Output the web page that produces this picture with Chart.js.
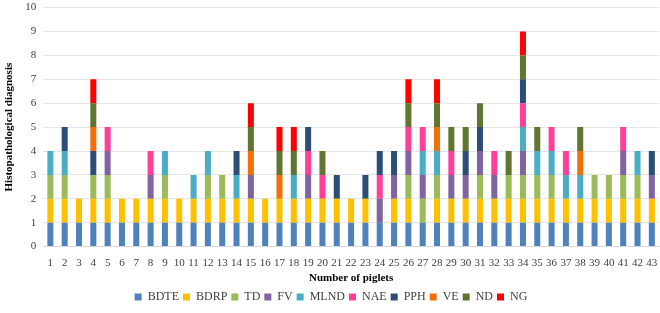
<!DOCTYPE html>
<html>
<head>
<meta charset="utf-8">
<script src="https://cdn.jsdelivr.net/npm/chart.js@4.4.0/dist/chart.umd.min.js"></script>
<style>
  html, body { margin: 0; padding: 0; background: #fff; overflow: hidden; }
  #wrap { width: 660px; height: 319px; margin-top: -6px; }
</style>
</head>
<body>
<div id="wrap"><canvas id="chart"></canvas></div>
<script>
// piglets 1..43
const piglets = Array.from({ length: 43 }, (_, i) => String(i + 1));
const yTicks = [0, 1, 2, 3, 4, 5, 6, 7, 8, 9, 10];

// 1 = lesion present in that piglet
const BDTE = [1,1,1,1,1,1,1,1,1,1, 1,1,1,1,1,1,1,1,1,1, 1,1,1,1,1,1,1,1,1,1, 1,1,1,1,1,1,1,1,1,1, 1,1,1];
const BDRP = [1,1,1,1,1,1,1,1,1,1, 1,1,1,1,1,1,1,1,1,1, 1,1,1,0,1,1,0,1,1,1, 1,1,1,1,1,1,1,1,1,1, 1,1,1];
const TD   = [1,1,0,1,1,0,0,0,1,0, 0,1,1,0,0,0,0,0,0,0, 0,0,0,0,0,1,1,1,0,0, 1,0,1,1,1,1,0,0,1,1, 1,1,0];
const FV   = [0,0,0,0,1,0,0,1,0,0, 0,0,0,0,1,0,0,0,1,0, 0,0,0,1,1,1,1,0,1,1, 1,1,0,1,0,0,0,0,0,0, 1,0,1];
const MLND = [1,1,0,0,0,0,0,0,1,0, 1,1,0,1,0,0,0,1,0,0, 0,0,0,0,0,0,1,1,0,0, 0,0,0,1,1,1,1,1,0,0, 0,1,0];
const NAE  = [0,0,0,0,1,0,0,1,0,0, 0,0,0,0,0,0,0,0,1,1, 0,0,0,1,0,1,1,0,1,0, 0,1,0,1,0,1,1,0,0,0, 1,0,0];
const PPH  = [0,1,0,1,0,0,0,0,0,0, 0,0,0,1,0,0,0,0,1,0, 1,0,1,1,1,0,0,0,0,1, 1,0,0,1,0,0,0,0,0,0, 0,0,1];
const VE   = [0,0,0,1,0,0,0,0,0,0, 0,0,0,0,1,0,1,0,0,0, 0,0,0,0,0,0,0,1,0,0, 0,0,0,0,0,0,0,1,0,0, 0,0,0];
const ND   = [0,0,0,1,0,0,0,0,0,0, 0,0,0,0,1,0,1,1,0,1, 0,0,0,0,0,1,0,1,1,1, 1,0,1,1,1,0,0,1,0,0, 0,0,0];
const NG   = [0,0,0,1,0,0,0,0,0,0, 0,0,0,0,1,0,1,1,0,0, 0,0,0,0,0,1,0,1,0,0, 0,0,0,1,0,0,0,0,0,0, 0,0,0];

const series = [
  ['BDTE', BDTE, '#4F81BD'],
  ['BDRP', BDRP, '#FFC000'],
  ['TD', TD, '#9BBB59'],
  ['FV', FV, '#8064A2'],
  ['MLND', MLND, '#4BACC6'],
  ['NAE', NAE, '#FF3F98'],
  ['PPH', PPH, '#2C4D75'],
  ['VE', VE, '#F36F0A'],
  ['ND', ND, '#5F7530'],
  ['NG', NG, '#FF0000']
];

const serif = '"Liberation Serif", "Times New Roman", serif';

new Chart(document.getElementById('chart'), {
  type: 'bar',
  data: {
    labels: piglets,
    datasets: series.map(s => ({
      label: s[0],
      data: s[1],
      backgroundColor: s[2],
      borderWidth: 0,
      barPercentage: 0.42,
      categoryPercentage: 1.0
    }))
  },
  options: {
    responsive: true,
    maintainAspectRatio: false,
    animation: false,
    layout: { padding: { top: 0, right: 1, left: 3, bottom: 0 } },
    plugins: {
      tooltip: { enabled: false },
      legend: {
        position: 'bottom',
        labels: {
          boxWidth: 7,
          boxHeight: 7,
          padding: 4,
          color: '#404040',
          font: { family: serif, size: 12 }
        }
      }
    },
    scales: {
      x: {
        stacked: true,
        grid: { display: false },
        border: { color: '#d9d9d9' },
        ticks: {
          color: '#404040',
          maxRotation: 0,
          autoSkip: false,
          padding: 2,
          font: { family: serif, size: 11 }
        },
        title: {
          display: true,
          text: 'Number of piglets',
          color: '#000',
          padding: { top: 0, bottom: 2 },
          font: { family: serif, size: 11, weight: 'bold' }
        }
      },
      y: {
        stacked: true,
        min: 0,
        max: 10,
        afterBuildTicks: axis => { axis.ticks = yTicks.map(v => ({ value: v })); },
        grid: { color: '#e6e6e6', drawTicks: false },
        border: { display: false },
        ticks: {
          color: '#404040',
          padding: 7,
          font: { family: serif, size: 11 }
        },
        title: {
          display: true,
          text: 'Histopathological diagnosis',
          color: '#000',
          padding: { top: 0, bottom: 2 },
          font: { family: serif, size: 11, weight: 'bold' }
        }
      }
    }
  }
});
</script>
</body>
</html>
